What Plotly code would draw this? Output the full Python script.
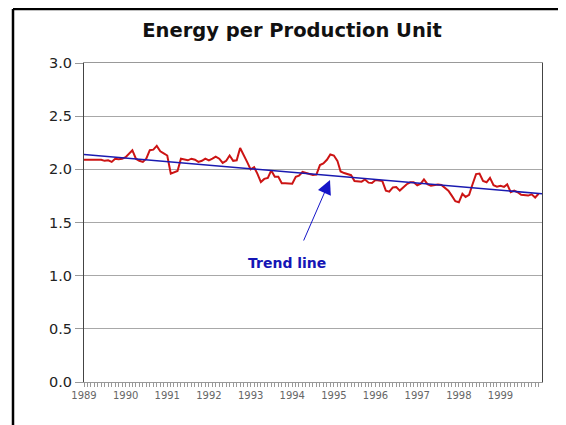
import pandas as pd
import plotly.graph_objects as go

# ---- data ----
start_month = "1989-01-01"
energy = [
    2.09, 2.09, 2.09, 2.09, 2.09, 2.09, 2.08, 2.085, 2.07, 2.10, 2.095, 2.10,   # 1989
    2.115, 2.15, 2.18, 2.10, 2.08, 2.07, 2.10, 2.18, 2.185, 2.22, 2.17, 2.15,  # 1990
    2.13, 1.96, 1.97, 1.985, 2.10, 2.09, 2.085, 2.10, 2.09, 2.07, 2.08, 2.10,  # 1991
    2.085, 2.10, 2.12, 2.10, 2.06, 2.08, 2.13, 2.08, 2.085, 2.20, 2.14, 2.07,  # 1992
    2.00, 2.02, 1.96, 1.88, 1.91, 1.92, 1.99, 1.93, 1.93, 1.87, 1.87, 1.87,    # 1993
    1.865, 1.93, 1.94, 1.975, 1.965, 1.95, 1.947, 1.95, 2.04, 2.055, 2.09, 2.14,  # 1994
    2.13, 2.08, 1.98, 1.965, 1.955, 1.945, 1.89, 1.89, 1.884, 1.905, 1.875, 1.872,  # 1995
    1.90, 1.895, 1.89, 1.80, 1.79, 1.83, 1.834, 1.80, 1.83, 1.86, 1.878, 1.878,  # 1996
    1.85, 1.865, 1.905, 1.86, 1.845, 1.85, 1.858, 1.853, 1.828, 1.80, 1.75, 1.70,  # 1997
    1.69, 1.77, 1.74, 1.76, 1.86, 1.955, 1.96, 1.89, 1.878, 1.92, 1.85, 1.837,  # 1998
    1.845, 1.835, 1.858, 1.785, 1.80, 1.784, 1.76, 1.755, 1.753, 1.765, 1.735, 1.77,  # 1999
]
trend_dates = ["1989-01-01", "2000-01-01"]
trend_values = [2.14, 1.77]
y_ticks = [0.0, 0.5, 1.0, 1.5, 2.0, 2.5, 3.0]
title_text = "Energy per Production Unit"
annotation_text = "Trend line"

months = pd.date_range(start_month, periods=len(energy), freq="MS")

# ---- figure (page has an 8px body margin; all page coords below are compensated) ----
OFF = 8
W, H = 558, 417
PL, PR, PT, PB = 84, 542, 63, 382          # desired plot area in page pixels
L, T = PL - OFF, PT - OFF
R = W - (PR - OFF)
B = H - (PB - OFF)
pw, ph = PR - PL, PB - PT
FONT = "DejaVu Sans, Liberation Sans, Arial, sans-serif"


def px_x(p):  # page pixel -> paper x
    return (p - PL) / pw


def px_y(p):  # page pixel -> paper y
    return (PB - p) / ph


fig = go.Figure()
fig.add_trace(go.Scatter(x=months, y=energy, mode="lines",
                         line=dict(color="#CC1414", width=2), showlegend=False))
fig.add_trace(go.Scatter(x=pd.to_datetime(trend_dates), y=trend_values, mode="lines",
                         line=dict(color="#1A1AB0", width=1.6), showlegend=False))

fig.update_layout(
    width=W, height=H,
    margin=dict(l=L, r=R, t=T, b=B, pad=0),
    paper_bgcolor="white", plot_bgcolor="white",
    font=dict(family=FONT),
    title=dict(text="<b>" + title_text + "</b>", x=(292 - OFF) / W, xanchor="center",
               y=1 - (30 - OFF) / H, yanchor="middle",
               font=dict(size=19.5, color="#111111", family=FONT)),
    xaxis=dict(
        type="date", range=["1989-01-01", "1999-12-31"],
        tick0="1989-01-01", dtick="M12", tickformat="%Y",
        ticks="outside", ticklen=4, tickcolor="#999999",
        tickfont=dict(size=10, color="#666666", family=FONT),
        showgrid=False, showline=True, linecolor="#999999", linewidth=1, mirror=True,
        minor=dict(dtick="M1", tick0="1989-01-01", ticks="outside", ticklen=4,
                   tickcolor="#999999", showgrid=False),
        zeroline=False,
    ),
    yaxis=dict(
        range=[0, 3], tickvals=y_ticks, tickformat=".1f",
        ticks="outside", ticklen=8, tickcolor="#999999",
        tickfont=dict(size=14.5, color="#222222", family=FONT),
        showgrid=True, gridcolor="#A8A8A8", gridwidth=1,
        showline=True, linecolor="#444444", linewidth=1, mirror=True,
        zeroline=False,
    ),
)

# "Trend line" label
fig.add_annotation(xref="paper", yref="paper", x=px_x(287), y=px_y(263),
                   text="<b>" + annotation_text + "</b>", showarrow=False,
                   font=dict(size=14, color="#1515B5", family=FONT),
                   xanchor="center", yanchor="middle")
# arrow
fig.add_annotation(xref="paper", yref="paper", axref="pixel", ayref="pixel",
                   x=px_x(330), y=px_y(180), ax=303 - 330, ay=242 - 180,
                   text="", showarrow=True, arrowhead=2, arrowsize=2.8,
                   arrowwidth=1, arrowcolor="#1515C8")

# outer frame (left and top edges)
fig.add_shape(type="line", xref="paper", yref="paper",
              x0=px_x(13), x1=px_x(13), y0=px_y(9), y1=px_y(H + 20),
              line=dict(color="black", width=2.5))
fig.add_shape(type="line", xref="paper", yref="paper",
              x0=px_x(13), x1=px_x(W + 20), y0=px_y(9), y1=px_y(9),
              line=dict(color="black", width=2.5))

fig.write_html("out.html")
